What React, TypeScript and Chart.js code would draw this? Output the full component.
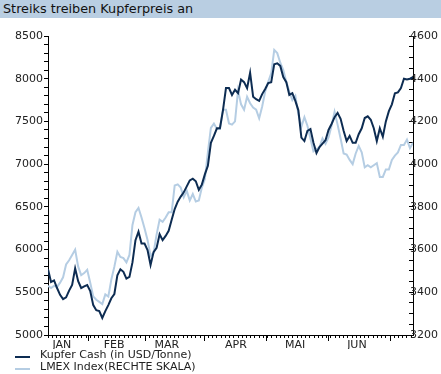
import React, { useEffect, useRef } from "react";
import { Chart, registerables } from "chart.js";

Chart.register(...registerables);

const TITLE = "Streiks treiben Kupferpreis an";
const CASH_LABEL = "Kupfer Cash (in USD/Tonne)";
const LMEX_LABEL = "LMEX Index(RECHTE SKALA)";
const CASH_COLOR = "#0d2c52";
const LMEX_COLOR = "#b5cde3";

// Kupfer Cash, USD/Tonne (left scale), one value per trading day
const kupferCash = [
  5770, 5620, 5640, 5550, 5470, 5420, 5440, 5520, 5585, 5780,
  5630, 5550, 5570, 5585, 5515, 5350, 5290, 5280, 5200, 5280,
  5350, 5430, 5480, 5700, 5770, 5740, 5660, 5680, 5850, 6110,
  6210, 6070, 6070, 5995, 5820, 5970, 6020, 6180, 6110, 6160,
  6220, 6350, 6475, 6560, 6620, 6670, 6740, 6810, 6830, 6800,
  6700, 6760, 6880, 6980, 7250, 7330, 7420, 7420, 7630, 7890,
  7890, 7810, 7870, 7830, 7990, 7960, 7890, 8070, 7790, 7760,
  7740, 7820, 7880, 7950, 7960, 8170, 8180, 8150, 8020, 7960,
  7810, 7830, 7740, 7630, 7310, 7270, 7390, 7410, 7250, 7130,
  7200, 7240, 7280, 7400, 7470, 7550, 7600, 7530, 7390, 7270,
  7330, 7250, 7250, 7350, 7420, 7540, 7560, 7520, 7420, 7270,
  7420, 7320, 7500, 7620, 7700, 7830, 7840, 7890, 8000, 7990,
  8000, 8020,
];

// LMEX Index (right scale)
const lmexIndex = [
  3430, 3420, 3430, 3425, 3445, 3470, 3530, 3550, 3575, 3600,
  3520, 3480, 3490, 3505, 3445, 3380, 3365, 3355, 3345, 3390,
  3380, 3460, 3520, 3590, 3565, 3560, 3540, 3575, 3715, 3775,
  3795, 3750, 3700, 3645, 3570, 3585, 3670, 3740, 3730, 3750,
  3775, 3775, 3900, 3905, 3890, 3845, 3875, 3830, 3860, 3825,
  3830, 3890, 3930, 4055, 4170, 4190, 4165, 4165, 4255, 4255,
  4190, 4185, 4200, 4345, 4280, 4255, 4315, 4285, 4265, 4255,
  4215, 4270, 4340, 4385, 4425, 4535, 4520, 4475, 4440, 4385,
  4340, 4300, 4320, 4235, 4175, 4220, 4180, 4120, 4060, 4070,
  4080, 4120, 4095, 4125, 4180, 4245, 4185, 4120, 4050, 4045,
  4020, 4000, 4050, 4085, 4055, 3985, 3995, 3985, 3995, 4005,
  3940, 3940, 3975, 3975, 4020, 4040, 4055, 4090, 4090, 4115,
  4075, 4100,
];

const monthLabels = ["JAN", "FEB", "MAR", "APR", "MAI", "JUN"];
// positions (trading-day index) of month names and month boundaries
const monthLabelPos = [4.6, 21.9, 39.4, 62.3, 81.9, 102.4];
const monthBoundaryPos = [13.3, 32.2, 52.0, 72.3, 93.1, 113.4];
const minorDayStep = 1.4;

const leftMin = 5000;
const leftMax = 8500;
const leftMinorStep = 100;
const leftLabelStep = 500;

const rightMin = 3200;
const rightMax = 4600;
const rightMinorStep = 50;
const rightLabelStep = 200;

const FONT = "'DejaVu Sans', sans-serif";
const TEXT = "#222";

function rangeTicks(min: number, max: number, step: number) {
  const out: { value: number }[] = [];
  for (let v = min; v <= max + 1e-6; v += step) out.push({ value: Math.round(v * 1000) / 1000 });
  return out;
}

export default function App() {
  const ref = useRef<HTMLCanvasElement | null>(null);

  useEffect(() => {
    if (!ref.current) return;
    const n = kupferCash.length;
    const cashData = kupferCash.map((v, i) => ({ x: i, y: v }));
    const lmexData = lmexIndex.map((v, i) => ({ x: i, y: v }));

    const chart = new Chart(ref.current, {
      type: "line",
      data: {
        datasets: [
          {
            label: CASH_LABEL,
            data: cashData,
            xAxisID: "x",
            yAxisID: "y",
            borderColor: CASH_COLOR,
            backgroundColor: CASH_COLOR,
            borderWidth: 2,
            pointRadius: 0,
            tension: 0,
          },
          {
            label: LMEX_LABEL,
            data: lmexData,
            xAxisID: "x",
            yAxisID: "y1",
            borderColor: LMEX_COLOR,
            backgroundColor: LMEX_COLOR,
            borderWidth: 2,
            pointRadius: 0,
            tension: 0,
          },
        ],
      },
      options: {
        responsive: false,
        animation: false,
        devicePixelRatio: 1,
        layout: { padding: { left: 0, right: 0, top: 18, bottom: 25 } },
        plugins: {
          title: { display: false },
          tooltip: { enabled: false },
          legend: { display: false },
        },
        scales: {
          x: {
            type: "linear",
            position: "bottom",
            min: 0,
            max: n - 1,
            afterBuildTicks: (s: any) => {
              s.ticks = rangeTicks(0, n - 1, minorDayStep);
            },
            afterFit: (s: any) => {
              s.height = 0;
            },
            ticks: { autoSkip: false, callback: () => "", maxRotation: 0 },
            grid: { drawOnChartArea: false, tickLength: 3, tickColor: "#000", tickWidth: 1 },
            border: { display: true, color: "#000", width: 1 },
          },
          xm: {
            type: "linear",
            position: "bottom",
            min: 0,
            max: n - 1,
            afterBuildTicks: (s: any) => {
              s.ticks = [
                ...monthBoundaryPos.map((v) => ({ value: v })),
                ...monthLabelPos.map((v) => ({ value: v })),
              ];
            },
            afterFit: (s: any) => {
              s.height = 14;
            },
            ticks: {
              autoSkip: false,
              maxRotation: 0,
              padding: -2,
              color: TEXT,
              font: { family: FONT, size: 11 },
              callback: (_v: any, i: number) =>
                i >= monthBoundaryPos.length ? monthLabels[i - monthBoundaryPos.length] : "",
            },
            grid: {
              drawOnChartArea: false,
              tickLength: 6,
              tickWidth: 1,
              tickColor: (ctx: any) => (ctx.index < monthBoundaryPos.length ? "#000" : "rgba(0,0,0,0)"),
            },
            border: { display: false },
          },
          y: {
            type: "linear",
            position: "left",
            min: leftMin,
            max: leftMax,
            afterBuildTicks: (s: any) => {
              s.ticks = rangeTicks(leftMin, leftMax, leftMinorStep);
            },
            afterFit: (s: any) => {
              s.width = 48;
              s.paddingTop = 0;
              s.paddingBottom = 0;
            },
            ticks: {
              autoSkip: false,
              padding: 1,
              color: TEXT,
              font: { family: FONT, size: 11 },
              callback: (v: any) => (Math.round(v) % leftLabelStep === 0 ? String(v) : ""),
            },
            grid: { drawOnChartArea: false, tickLength: 4, tickColor: "#000" },
            border: { display: true, color: "#000", width: 1 },
          },
          y1: {
            type: "linear",
            position: "right",
            min: rightMin,
            max: rightMax,
            afterBuildTicks: (s: any) => {
              s.ticks = rangeTicks(rightMin, rightMax, rightMinorStep);
            },
            afterFit: (s: any) => {
              s.width = 28;
              s.paddingTop = 0;
              s.paddingBottom = 0;
            },
            ticks: {
              autoSkip: false,
              mirror: true,
              crossAlign: "near",
              padding: 25,
              color: TEXT,
              font: { family: FONT, size: 11 },
              callback: (v: any) => (Math.round(v) % rightLabelStep === 0 ? String(v) : ""),
            },
            grid: { drawOnChartArea: false, tickLength: -4, tickColor: "#000" },
            border: { display: true, color: "#000", width: 1 },
          },
        },
      } as any,
    });
    return () => chart.destroy();
  }, []);

  const legendItems = [
    { label: CASH_LABEL, color: CASH_COLOR },
    { label: LMEX_LABEL, color: LMEX_COLOR },
  ];

  return (
    <div style={{ position: "absolute", left: 0, top: 0, width: 441, height: 374, background: "#fff", overflow: "hidden" }}>
      <div
        style={{
          height: 18,
          lineHeight: "18px",
          background: "#b9cee2",
          color: "#111",
          fontFamily: FONT,
          fontSize: 12.8,
          paddingLeft: 3,
          whiteSpace: "nowrap",
          overflow: "hidden",
        }}
      >
        {TITLE}
      </div>
      <canvas ref={ref} width={441} height={356} style={{ display: "block", width: 441, height: 356 }} />
      {legendItems.map((it, i) => (
        <div
          key={it.label}
          style={{
            position: "absolute",
            left: 0,
            top: 349 + i * 12,
            width: 441,
            height: 12,
            fontFamily: FONT,
            fontSize: 11,
            lineHeight: "12px",
            color: TEXT,
            whiteSpace: "nowrap",
          }}
        >
          <div style={{ position: "absolute", left: 15, top: 7, width: 15, height: 2, background: it.color }} />
          <span style={{ position: "absolute", left: 40, top: 0 }}>{it.label}</span>
        </div>
      ))}
    </div>
  );
}
